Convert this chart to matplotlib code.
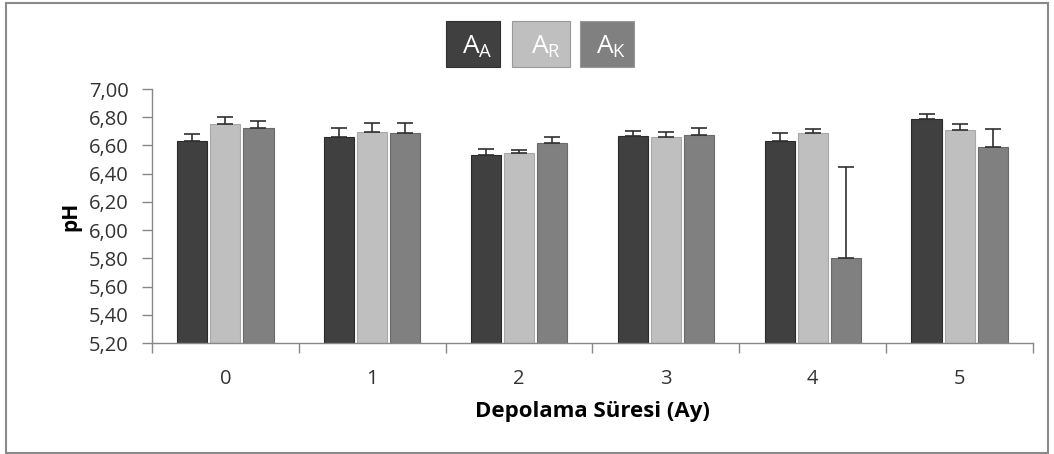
import matplotlib
matplotlib.use("Agg")
import matplotlib.pyplot as plt
import numpy as np
from matplotlib.patches import Rectangle

categories = ["0", "1", "2", "3", "4", "5"]
series_names = ["A", "R", "K"]
A_A = [6.63, 6.66, 6.53, 6.665, 6.635, 6.785]
A_R = [6.75, 6.695, 6.545, 6.66, 6.685, 6.71]
A_K = [6.725, 6.69, 6.62, 6.675, 5.805, 6.59]
err_A = [0.05, 0.065, 0.045, 0.04, 0.055, 0.04]
err_R = [0.05, 0.065, 0.02, 0.035, 0.035, 0.04]
err_K = [0.05, 0.07, 0.04, 0.05, 0.645, 0.125]
yticks = [5.20, 5.40, 5.60, 5.80, 6.00, 6.20, 6.40, 6.60, 6.80, 7.00]
colors = ["#404040", "#bfbfbf", "#808080"]

plt.rcParams['font.family'] = ['Open Sans', 'DejaVu Sans']

fig = plt.figure(figsize=(10.54, 4.54), dpi=100)
W, H = 1054, 454
ax = fig.add_axes([152 / W, 1 - 343 / H, (1033 - 152) / W, (343 - 89) / H])

x = np.arange(len(categories))
width = 0.205
step = 0.225
for i, (vals, errs, c) in enumerate(zip([A_A, A_R, A_K], [err_A, err_R, err_K], colors)):
    xs = x + (i - 1) * step
    ax.bar(xs, np.array(vals) - 5.2, width, bottom=5.2, color=c,
           edgecolor="#2a2a2a" if i == 0 else ("#a8a8a8" if i == 1 else "#6a6a6a"),
           linewidth=0.8, zorder=2)
    ax.errorbar(xs, vals, yerr=[np.zeros(len(vals)), errs], fmt="none",
                ecolor="#303030", elinewidth=1.2, capsize=6, capthick=1.2, zorder=3)

ax.set_xlim(-0.5, len(categories) - 0.5)
ax.set_ylim(5.2, 7.0)
ax.set_yticks(yticks)
ax.set_yticklabels([f"{v:.2f}".replace(".", ",") for v in yticks], fontsize=14.5, color="#333333")
ax.set_xticks(x)
ax.set_xticklabels(categories, fontsize=14.5, color="#333333")
ax.set_xticks(np.arange(-0.5, len(categories), 1.0), minor=True)
ax.tick_params(axis="x", which="major", length=0, pad=19)
ax.tick_params(axis="x", which="minor", length=7, color="#888888", width=1)
ax.tick_params(axis="y", length=7, color="#888888", width=1, pad=10)
for s in ["top", "right"]:
    ax.spines[s].set_visible(False)
for s in ["left", "bottom"]:
    ax.spines[s].set_color("#888888")
    ax.spines[s].set_linewidth(1)
ax.set_ylabel("pH", fontsize=15, fontweight="bold", labelpad=5)
ax.set_xlabel("Depolama Süresi (Ay)", fontsize=16, fontweight="bold", labelpad=8)

# legend boxes
boxes = [(446, 21, 54, 46), (512, 21, 58, 46), (580, 21, 54, 46)]
for (bx, by, bw, bh), c, sub in zip(boxes, colors, series_names):
    fig.patches.append(Rectangle((bx / W, 1 - (by + bh) / H), bw / W, bh / H,
                                 transform=fig.transFigure, facecolor=c,
                                 edgecolor="#303030" if c == "#404040" else "#999999",
                                 linewidth=0.8))
    fig.text((bx + bw * 0.58) / W, 1 - (by + bh * 0.55) / H, r"A$_{\mathregular{%s}}$" % sub,
             color="white", fontsize=19, ha="center", va="center")

# outer frame
fig.patches.append(Rectangle((6 / W, 1 - 453 / H), 1042 / W, 450 / H,
                             transform=fig.transFigure, facecolor="none",
                             edgecolor="#8a8a8a", linewidth=1.5))

fig.savefig("out.png", dpi=100)
